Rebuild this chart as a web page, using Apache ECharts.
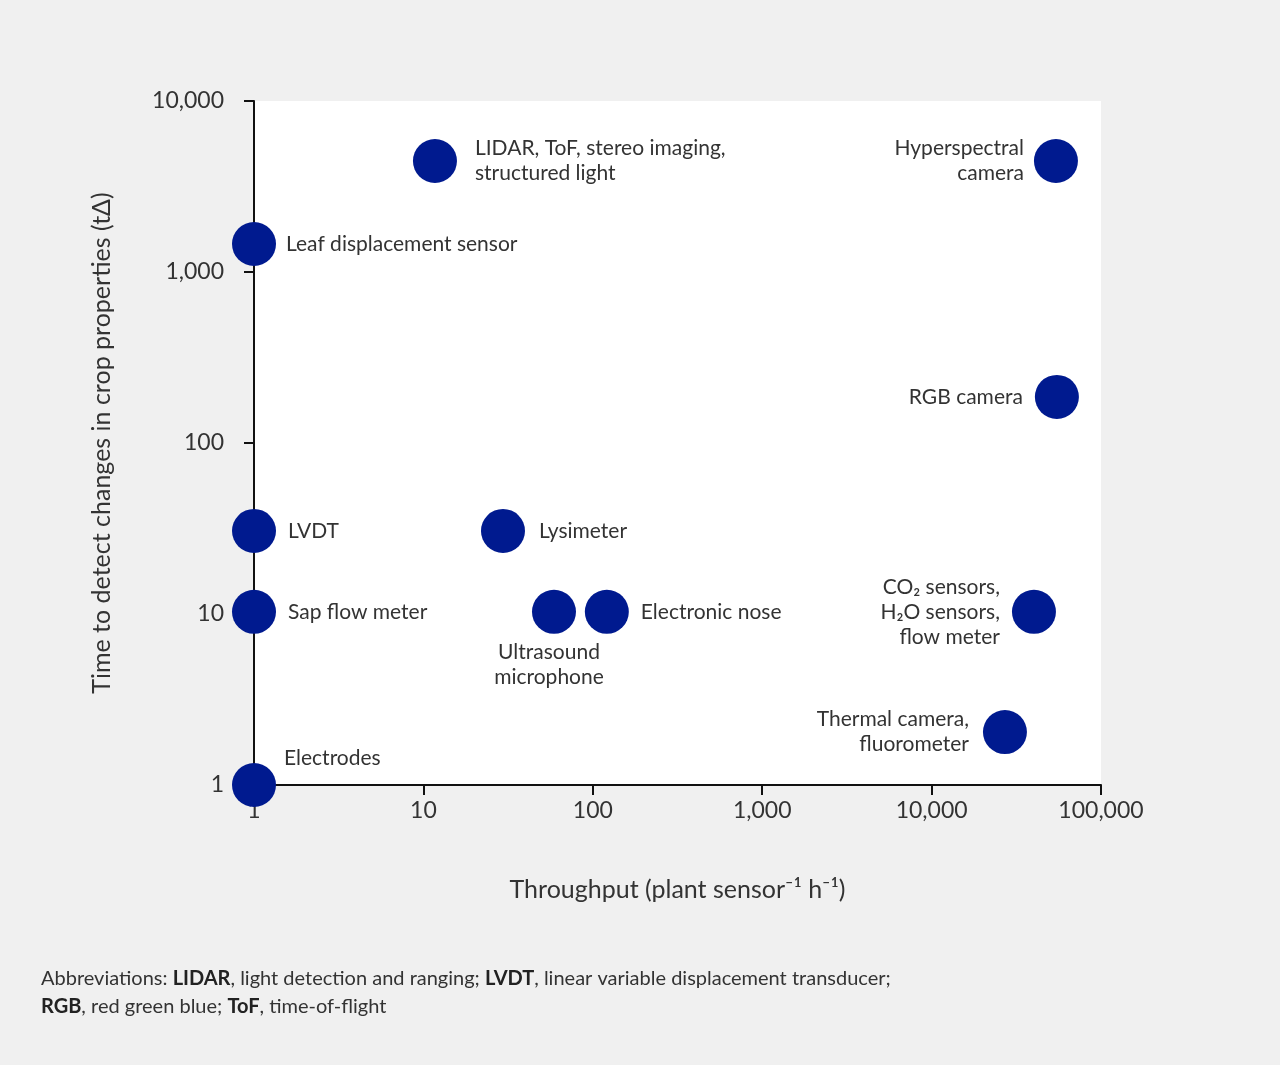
<!DOCTYPE html>
<html>
<head>
<meta charset="utf-8">
<script src="https://cdn.jsdelivr.net/npm/echarts@6/dist/echarts.min.js"></script>
<style>
  html, body { margin: 0; padding: 0; background: #f0f0f0; }
  #chart { width: 1280px; height: 1065px; }
</style>
</head>
<body>
<div id="chart"></div>
<script>
var sensorNames = ['LIDAR', 'Hyperspectral', 'Leaf', 'RGB', 'LVDT', 'Lysimeter',
  'Sap', 'Ultrasound', 'Nose', 'CO2', 'Thermal', 'Electrodes'];
var sensorLabels = [
  'LIDAR, ToF, stereo imaging,\nstructured light',
  'Hyperspectral\ncamera',
  'Leaf displacement sensor',
  'RGB camera',
  'LVDT',
  'Lysimeter',
  'Sap flow meter',
  'Ultrasound\nmicrophone',
  'Electronic nose',
  'CO₂ sensors,\nH₂O sensors,\nflow meter',
  'Thermal camera,\nfluorometer',
  'Electrodes'
];
var throughput = [11.7, 54200, 1, 54900, 1, 29.5, 1, 59, 121, 40200, 27100, 1];
var detectTime = [4460, 4460, 1458, 186, 30.6, 30.6, 10.3, 10.3, 10.3, 10.3, 2.04, 1];
var xTicks = [1, 10, 100, 1000, 10000, 100000];
var yTicks = [1, 10, 100, 1000, 10000];

// label placement per point
var labelPlace = {
  LIDAR: { position: 'right', distance: 18, align: 'left' },
  Hyperspectral: { position: 'left', distance: 10, align: 'right' },
  Leaf: { position: 'right', distance: 10, align: 'left' },
  RGB: { position: 'left', distance: 12, align: 'right' },
  LVDT: { position: 'right', distance: 12, align: 'left' },
  Lysimeter: { position: 'right', distance: 14, align: 'left' },
  Sap: { position: 'right', distance: 12, align: 'left' },
  Ultrasound: { position: 'bottom', distance: 6, align: 'center', offset: [-5, 0] },
  Nose: { position: 'right', distance: 12, align: 'left' },
  CO2: { position: 'left', distance: 12, align: 'right' },
  Thermal: { position: 'left', distance: 14, align: 'right' },
  Electrodes: { position: 'right', distance: 8, align: 'left', offset: [0, -27] }
};

var points = sensorNames.map(function (n, i) {
  var p = labelPlace[n];
  return {
    name: n,
    value: [throughput[i], detectTime[i]],
    label: {
      show: true,
      formatter: sensorLabels[i],
      position: p.position,
      distance: p.distance,
      align: p.align,
      offset: p.offset || [0, 0]
    }
  };
});

var font = 'Lato';
var myChart = echarts.init(document.getElementById('chart'));
var option = {
  backgroundColor: '#f0f0f0',
  textStyle: { fontFamily: font },
  grid: {
    left: 254, right: 179, top: 101, bottom: 280,
    show: true, backgroundColor: '#ffffff', borderWidth: 0
  },
  xAxis: {
    type: 'log', logBase: 10, min: xTicks[0], max: xTicks[xTicks.length - 1],
    name: 'Throughput (plant sensor⁻¹ h⁻¹)',
    nameLocation: 'middle', nameGap: 92,
    nameTextStyle: { fontSize: 25, color: '#333', fontFamily: font },
    axisLine: { lineStyle: { color: '#111', width: 2 } },
    axisTick: { length: 10, lineStyle: { color: '#111', width: 2 } },
    axisLabel: { fontSize: 23, color: '#333', margin: 14, fontFamily: font },
    splitLine: { show: false },
    minorTick: { show: false }
  },
  yAxis: {
    type: 'log', logBase: 10, min: yTicks[0], max: yTicks[yTicks.length - 1],
    name: 'Time to detect changes in crop properties (tΔ)',
    nameLocation: 'middle', nameGap: 140,
    nameTextStyle: { fontSize: 25, color: '#333', fontFamily: font },
    axisLine: { lineStyle: { color: '#111', width: 2 } },
    axisTick: { length: 10, lineStyle: { color: '#111', width: 2 } },
    axisLabel: { fontSize: 23, color: '#333', margin: 30, fontFamily: font },
    splitLine: { show: false }
  },
  series: [{
    type: 'scatter',
    symbolSize: 44,
    clip: false,
    itemStyle: { color: '#001a8f', opacity: 1 },
    label: { fontSize: 21, color: '#333', lineHeight: 25, fontFamily: font },
    data: points
  }],
  graphic: [{
    type: 'text', left: 41, top: 965,
    style: {
      text: 'Abbreviations: {b|LIDAR}, light detection and ranging; {b|LVDT}, linear variable displacement transducer;\n{b|RGB}, red green blue; {b|ToF}, time-of-flight',
      fontSize: 20, lineHeight: 28, fill: '#333', fontFamily: font,
      rich: { b: { fontWeight: 'bold', fontSize: 20, fill: '#222', fontFamily: font } }
    }
  }]
};
myChart.setOption(option);
</script>
</body>
</html>
